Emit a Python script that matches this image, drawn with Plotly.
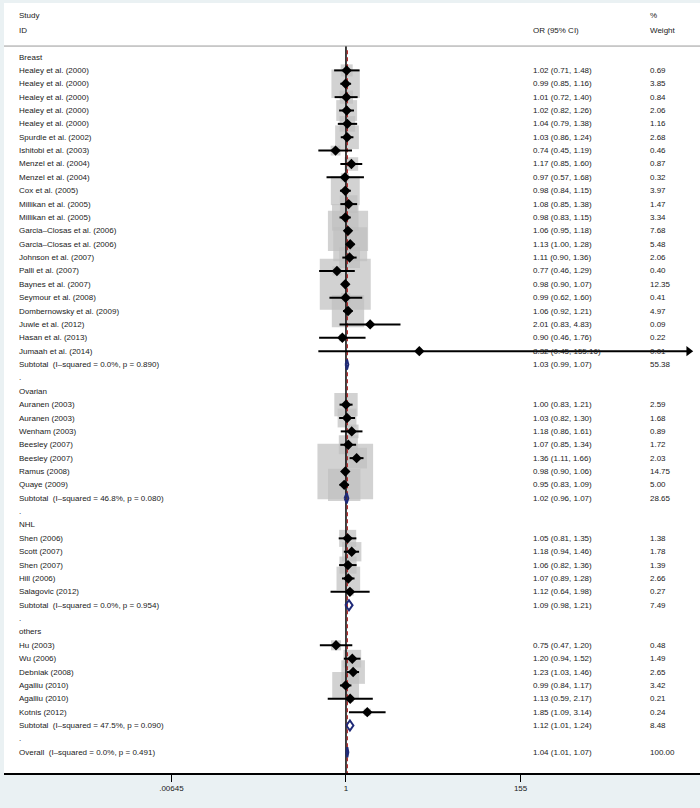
import numpy as np
import plotly.graph_objects as go

# ---------------- data ----------------
group_names = ["Breast", "Ovarian", "NHL", "others"]

breast_studies = ["Healey et al. (2000)", "Healey et al. (2000)", "Healey et al. (2000)",
                  "Healey et al. (2000)", "Healey et al. (2000)", "Spurdle et al. (2002)",
                  "Ishitobi et al. (2003)", "Menzel et al. (2004)", "Menzel et al. (2004)",
                  "Cox et al. (2005)", "Millikan et al. (2005)", "Millikan et al. (2005)",
                  "Garcia–Closas et al. (2006)", "Garcia–Closas et al. (2006)",
                  "Johnson et al. (2007)", "Palli et al. (2007)", "Baynes et al. (2007)",
                  "Seymour et al. (2008)", "Dombernowsky et al. (2009)", "Juwle et al. (2012)",
                  "Hasan et al. (2013)", "Jumaah et al. (2014)"]
breast_or = [1.02, 0.99, 1.01, 1.02, 1.04, 1.03, 0.74, 1.17, 0.97, 0.98, 1.08, 0.98,
             1.06, 1.13, 1.11, 0.77, 0.98, 0.99, 1.06, 2.01, 0.90, 8.32]
breast_lo = [0.71, 0.85, 0.72, 0.82, 0.79, 0.86, 0.45, 0.85, 0.57, 0.84, 0.85, 0.83,
             0.95, 1.00, 0.90, 0.46, 0.90, 0.62, 0.92, 0.83, 0.46, 0.45]
breast_hi = [1.48, 1.16, 1.40, 1.26, 1.38, 1.24, 1.19, 1.60, 1.68, 1.15, 1.38, 1.15,
             1.18, 1.28, 1.36, 1.29, 1.07, 1.60, 1.21, 4.83, 1.76, 155.16]
breast_w = [0.69, 3.85, 0.84, 2.06, 1.16, 2.68, 0.46, 0.87, 0.32, 3.97, 1.47, 3.34,
            7.68, 5.48, 2.06, 0.40, 12.35, 0.41, 4.97, 0.09, 0.22, 0.01]

ovarian_studies = ["Auranen (2003)", "Auranen (2003)", "Wenham (2003)", "Beesley (2007)",
                   "Beesley (2007)", "Ramus (2008)", "Quaye (2009)"]
ovarian_or = [1.00, 1.03, 1.18, 1.07, 1.36, 0.98, 0.95]
ovarian_lo = [0.83, 0.82, 0.86, 0.85, 1.11, 0.90, 0.83]
ovarian_hi = [1.21, 1.30, 1.61, 1.34, 1.66, 1.06, 1.09]
ovarian_w = [2.59, 1.68, 0.89, 1.72, 2.03, 14.75, 5.00]

nhl_studies = ["Shen (2006)", "Scott (2007)", "Shen (2007)", "Hill (2006)", "Salagovic (2012)"]
nhl_or = [1.05, 1.18, 1.06, 1.07, 1.12]
nhl_lo = [0.81, 0.94, 0.82, 0.89, 0.64]
nhl_hi = [1.35, 1.46, 1.36, 1.28, 1.98]
nhl_w = [1.38, 1.78, 1.39, 2.66, 0.27]

others_studies = ["Hu (2003)", "Wu (2006)", "Debniak (2008)", "Agalliu (2010)",
                  "Agalliu (2010)", "Kotnis (2012)"]
others_or = [0.75, 1.20, 1.23, 0.99, 1.13, 1.85]
others_lo = [0.47, 0.94, 1.03, 0.84, 0.59, 1.09]
others_hi = [1.20, 1.52, 1.46, 1.17, 2.17, 3.14]
others_w = [0.48, 1.49, 2.65, 3.42, 0.21, 0.24]

subtotal_labels = ["Subtotal  (I–squared = 0.0%, p = 0.890)",
                   "Subtotal  (I–squared = 46.8%, p = 0.080)",
                   "Subtotal  (I–squared = 0.0%, p = 0.954)",
                   "Subtotal  (I–squared = 47.5%, p = 0.090)"]
subtotal_or = [1.03, 1.02, 1.09, 1.12]
subtotal_lo = [0.99, 0.96, 0.98, 1.01]
subtotal_hi = [1.07, 1.07, 1.21, 1.24]
subtotal_w = [55.38, 28.65, 7.49, 8.48]

overall_label = "Overall  (I–squared = 0.0%, p = 0.491)"
overall_or = 1.04
overall_lo = 1.01
overall_hi = 1.07
overall_w = 100.00

tick_vals = [0.00645, 1, 155]
tick_text = [".00645", "1", "155"]

# ---------------- layout constants ----------------
X_RANGE_LOG = [-4.291, 4.442]
ARROW_END_LOG = 4.30
Y_RANGE = [53.55, -4.04]
BOX_K = 14.5
FONT = "Liberation Sans, Arial, sans-serif"
FS = 8
TXT = "#1a1a1a"
NAVY = "#1f2a78"

groups = [
    (breast_studies, breast_or, breast_lo, breast_hi, breast_w),
    (ovarian_studies, ovarian_or, ovarian_lo, ovarian_hi, ovarian_w),
    (nhl_studies, nhl_or, nhl_lo, nhl_hi, nhl_w),
    (others_studies, others_or, others_lo, others_hi, others_w),
]

# rows
text_rows = []   # (row, label, orci, weight)
study_rows = []  # (row, or, lo, hi, w)
diamond_rows = []  # (row, or, lo, hi)
r = 0
for gi, (names, ors, los, his, ws) in enumerate(groups):
    text_rows.append((r, group_names[gi], "", ""))
    r += 1
    for n, o, lo, hi, w in zip(names, ors, los, his, ws):
        text_rows.append((r, n, f"{o:.2f} ({lo:.2f}, {hi:.2f})", f"{w:.2f}"))
        study_rows.append((r, o, lo, hi, w))
        r += 1
    text_rows.append((r, subtotal_labels[gi],
                      f"{subtotal_or[gi]:.2f} ({subtotal_lo[gi]:.2f}, {subtotal_hi[gi]:.2f})",
                      f"{subtotal_w[gi]:.2f}"))
    diamond_rows.append((r, subtotal_or[gi], subtotal_lo[gi], subtotal_hi[gi]))
    r += 1
    text_rows.append((r, ".", "", ""))
    r += 1
text_rows.append((r, overall_label, f"{overall_or:.2f} ({overall_lo:.2f}, {overall_hi:.2f})",
                  f"{overall_w:.2f}"))
diamond_rows.append((r, overall_or, overall_lo, overall_hi))

fig = go.Figure()

# grey weight boxes
fig.add_trace(go.Scatter(
    x=[s[1] for s in study_rows], y=[s[0] for s in study_rows], mode="markers",
    marker=dict(symbol="square", color="#bfbfbf",
                size=[BOX_K * np.sqrt(s[4]) for s in study_rows], line=dict(width=0)),
    hoverinfo="skip", showlegend=False))

# reference lines
fig.add_trace(go.Scatter(x=[1, 1], y=[-0.82, Y_RANGE[0]], mode="lines",
                         line=dict(color="black", width=1.5), hoverinfo="skip", showlegend=False))
fig.add_trace(go.Scatter(x=[overall_or, overall_or], y=[-0.5, Y_RANGE[0]], mode="lines",
                         line=dict(color="#b22222", width=1.2, dash="4px,3px"),
                         hoverinfo="skip", showlegend=False))

# CI lines
xmax = 10 ** ARROW_END_LOG
xs, ys, ax_, ay_ = [], [], [], []
for row, o, lo, hi, w in study_rows:
    top = hi
    if hi > max(tick_vals):
        top = xmax
        ax_.append(top)
        ay_.append(row)
    xs += [lo, top, None]
    ys += [row, row, None]
fig.add_trace(go.Scatter(x=xs, y=ys, mode="lines", line=dict(color="black", width=2),
                         hoverinfo="skip", showlegend=False))
if ax_:
    fig.add_trace(go.Scatter(x=ax_, y=ay_, mode="markers",
                             marker=dict(symbol="triangle-right", size=9, color="black"),
                             hoverinfo="skip", showlegend=False))

# point estimates
fig.add_trace(go.Scatter(
    x=[s[1] for s in study_rows], y=[s[0] for s in study_rows], mode="markers",
    marker=dict(symbol="diamond", color="black", size=8),
    hoverinfo="skip", showlegend=False))

# subtotal / overall diamonds
for row, o, lo, hi in diamond_rows:
    h = 0.38
    fig.add_trace(go.Scatter(
        x=[lo, o, hi, o, lo], y=[row, row - h, row, row + h, row], mode="lines",
        line=dict(color=NAVY, width=2), hoverinfo="skip", showlegend=False))

# text columns
col_x = [(17 - 4) / 696, (531 - 4) / 696, (648 - 4) / 696]
ann = []
def add_text(x, y, t):
    ann.append(dict(x=x, y=y, xref="paper", yref="y", text=t, showarrow=False,
                    xanchor="left", yanchor="middle",
                    font=dict(family=FONT, size=FS, color=TXT)))

for row, lab, orci, wt in text_rows:
    add_text(col_x[0], row, lab)
    if orci:
        add_text(col_x[1], row, orci)
    if wt:
        add_text(col_x[2], row, wt)

add_text(col_x[0], -3.07, "Study")
add_text(col_x[0], -2.02, "ID")
add_text(col_x[1], -2.02, "OR (95% CI)")
add_text(col_x[2], -3.07, "%")
add_text(col_x[2], -2.02, "Weight")

fig.update_layout(
    width=700, height=808,
    margin=dict(l=4, r=0, t=3, b=35),
    paper_bgcolor="#eaf1f3", plot_bgcolor="white",
    annotations=ann,
    shapes=[dict(type="line", xref="paper", yref="y", x0=0, x1=1, y0=-0.82, y1=-0.82,
                 line=dict(color="#9a9a9a", width=1))],
    xaxis=dict(type="log", range=X_RANGE_LOG, tickvals=tick_vals, ticktext=tick_text,
               showgrid=False, zeroline=False, showline=True, linecolor="black", linewidth=1.5,
               ticks="outside", ticklen=7, tickwidth=1.2, tickcolor="black",
               tickfont=dict(family=FONT, size=FS, color=TXT)),
    yaxis=dict(range=Y_RANGE, showgrid=False, zeroline=False, showticklabels=False,
               showline=False),
    showlegend=False,
)

fig.write_html("out.html", config={"displayModeBar": False},
               post_script="document.body.style.margin='0';document.body.style.overflow='hidden';")
